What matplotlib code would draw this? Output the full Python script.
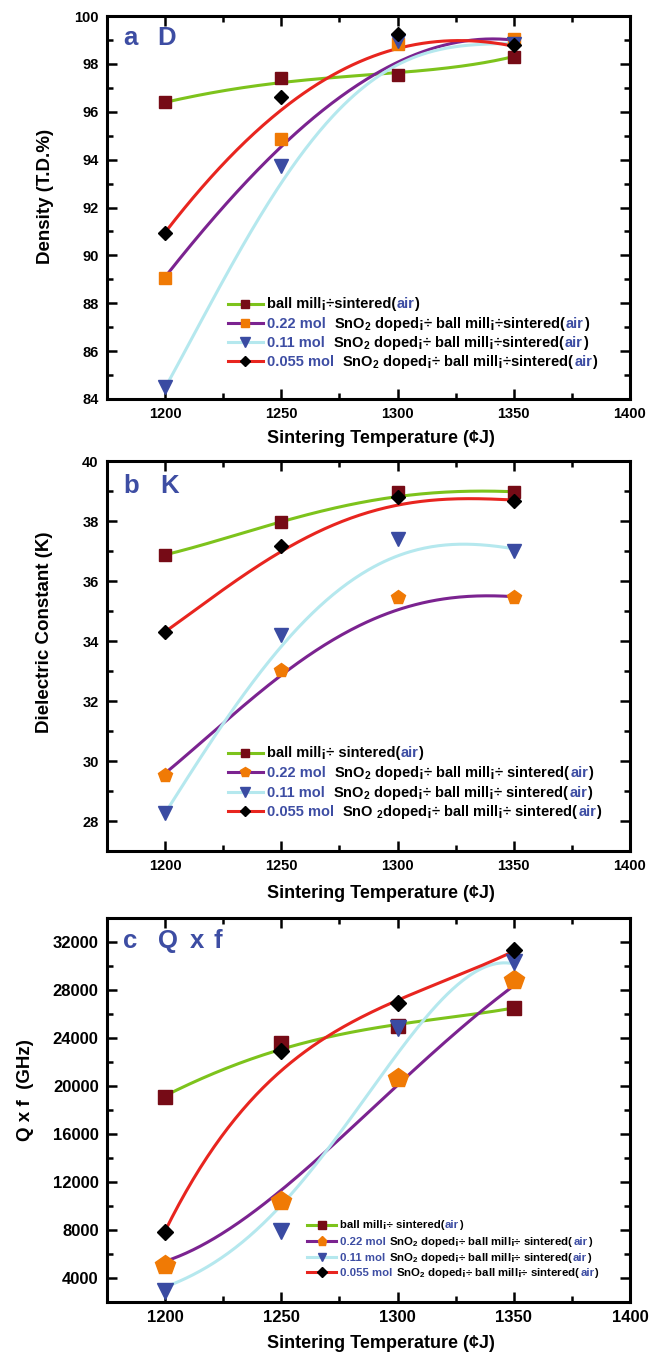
"""Density, dielectric constant and Qxf vs sintering temperature (three stacked panels)."""

import numpy as np
import matplotlib

matplotlib.use("Agg")
import matplotlib.pyplot as plt
from matplotlib.lines import Line2D
from matplotlib.offsetbox import AnchoredOffsetbox, DrawingArea, HPacker, TextArea
from matplotlib.ticker import MultipleLocator

plt.rcParams["font.family"] = ["Liberation Sans", "DejaVu Sans"]
plt.rcParams["font.weight"] = "bold"
plt.rcParams["mathtext.default"] = "regular"

# ---- data ----
temps = [1200, 1250, 1300, 1350]
# the smoothed guide curves were read every 25 degC
curve_temps = [1200, 1225, 1250, 1275, 1300, 1325, 1350]

# (a) density, T.D.%
dens_ball = [96.4, 97.4, 97.55, 98.3]
dens_022 = [89.05, 94.85, 98.85, 99.05]
dens_011 = [84.5, 93.75, 98.95, 98.85]
dens_0055 = [90.95, 96.6, 99.25, 98.8]
dens_ball_curve = [96.4, 96.85, 97.25, 97.45, 97.6, 97.9, 98.3]
dens_022_curve = [89.1, 92.0, 94.6, 96.5, 98.15, 98.85, 99.0]
dens_011_curve = [84.5, 88.8, 93.3, 95.9, 98.0, 98.75, 98.85]
dens_0055_curve = [90.95, 93.85, 96.05, 97.65, 98.72, 98.92, 98.75]

# (b) dielectric constant K
k_ball = [36.87, 37.98, 38.98, 38.98]
k_022 = [29.53, 33.03, 35.48, 35.46]
k_011 = [28.28, 34.2, 37.4, 37.01]
k_0055 = [34.31, 37.18, 38.81, 38.68]
k_ball_curve = [36.87, 37.42, 37.96, 38.46, 38.84, 38.96, 38.98]
k_022_curve = [29.59, 31.26, 32.87, 34.14, 35.06, 35.44, 35.48]
k_011_curve = [28.26, 31.26, 33.81, 35.7, 36.87, 37.2, 37.08]
k_0055_curve = [34.31, 35.7, 37.01, 37.92, 38.55, 38.73, 38.7]

# (c) Q x f, GHz
qf_ball = [19100, 23600, 25000, 26500]
qf_022 = [5100, 10400, 20700, 28800]
qf_011 = [2900, 7900, 24800, 30300]
qf_0055 = [7800, 22900, 26900, 31300]
qf_ball_curve = [19190, 21360, 23080, 24280, 25110, 25800, 26500]
qf_022_curve = [5390, 7750, 11360, 15530, 20110, 24420, 28360]
qf_011_curve = [3170, 6080, 9690, 16080, 23030, 28030, 30250]
qf_0055_curve = [7900, 16080, 21080, 24970, 27000, 29190, 31220]

xlabel = "Sintering Temperature (¢J)"

# legend texts: (piece, is_blue)
legend_a = [
    [("ball mill¡÷sintered(", 0), ("air", 1), (")", 0)],
    [("0.22 mol", 1), ("  SnO$_2$ doped¡÷ ball mill¡÷sintered(", 0), ("air", 1), (")", 0)],
    [("0.11 mol", 1), ("  SnO$_2$ doped¡÷ ball mill¡÷sintered(", 0), ("air", 1), (")", 0)],
    [("0.055 mol", 1), ("  SnO$_2$ doped¡÷ ball mill¡÷sintered(", 0), ("air", 1), (")", 0)],
]
legend_b = [
    [("ball mill¡÷ sintered(", 0), ("air", 1), (")", 0)],
    [("0.22 mol", 1), ("  SnO$_2$ doped¡÷ ball mill¡÷ sintered( ", 0), ("air", 1), (")", 0)],
    [("0.11 mol", 1), ("  SnO$_2$ doped¡÷ ball mill¡÷ sintered( ", 0), ("air", 1), (")", 0)],
    [("0.055 mol", 1), ("  SnO $_2$doped¡÷ ball mill¡÷ sintered( ", 0), ("air", 1), (")", 0)],
]
legend_c = [
    [("ball mill¡÷ sintered(", 0), ("air", 1), (")", 0)],
    [("0.22 mol", 1), (" SnO$_2$ doped¡÷ ball mill¡÷ sintered( ", 0), ("air", 1), (")", 0)],
    [("0.11 mol", 1), (" SnO$_2$ doped¡÷ ball mill¡÷ sintered( ", 0), ("air", 1), (")", 0)],
    [("0.055 mol", 1), (" SnO$_2$ doped¡÷ ball mill¡÷ sintered( ", 0), ("air", 1), (")", 0)],
]

# ---- styling ----
W, H = 660, 1355
BLUE = "#3d4da3"
LINE_COLORS = ["#7dc31c", "#7b2390", "#b5e8ee", "#e8251f"]
MARKER_COLORS = ["#760b16", "#f07a05", "#3a4ba2", "#000000"]


def fx(px):
    return px / W


def fy(px):
    return 1 - px / H


def smooth(ys, n=200):
    # least-squares quartic through the read curve values (irons out reading noise)
    p = np.polynomial.Polynomial.fit(curve_temps, ys, 4)
    xx = np.linspace(curve_temps[0], curve_temps[-1], n)
    return xx, p(xx)


def legend_row(ax, parts, x0, yc, lcolor, marker, mcolor, ms, fs, hlen):
    da = DrawingArea(hlen, fs, 0, fs * 0.3)
    y = fs * 0.33
    da.add_artist(Line2D([0, hlen], [y, y], color=lcolor, lw=2.2))
    da.add_artist(Line2D([hlen / 2], [y], marker=marker, ms=ms, color=mcolor, mec=mcolor, ls="none"))
    texts = [TextArea(t, textprops=dict(color=BLUE if b else "black", fontsize=fs, fontweight="bold"))
             for t, b in parts]
    row = HPacker(children=[da, HPacker(children=texts, align="baseline", pad=0, sep=0)],
                  align="baseline", pad=0, sep=3)
    box = AnchoredOffsetbox(loc="center left", child=row, pad=0, borderpad=0, frameon=False,
                            bbox_to_anchor=(fx(x0), fy(yc)), bbox_transform=ax.figure.transFigure)
    ax.add_artist(box)


def style_axes(ax, ylim, ymajor, yminor, fs):
    ax.set_xlim(1175, 1400)
    ax.set_ylim(*ylim)
    ax.xaxis.set_major_locator(MultipleLocator(50))
    ax.xaxis.set_minor_locator(MultipleLocator(25))
    ax.yaxis.set_major_locator(MultipleLocator(ymajor))
    ax.yaxis.set_minor_locator(MultipleLocator(yminor))
    ax.tick_params(which="both", direction="in", top=True, right=True, width=1.8, labelsize=fs, pad=6)
    ax.tick_params(which="major", length=7)
    ax.tick_params(which="minor", length=4)
    for s in ax.spines.values():
        s.set_linewidth(2.2)


def draw_panel(ax, markers, curves, mk, sizes, legend, leg):
    for i in range(4):
        xx, yy = smooth(curves[i])
        ax.plot(xx, yy, color=LINE_COLORS[i], lw=2.2, zorder=2)
    for i in range(4):
        ax.plot(temps, markers[i], ls="none", marker=mk[i], ms=sizes[i],
                color=MARKER_COLORS[i], mec=MARKER_COLORS[i], zorder=3)
    x0, rows, fs, lsizes, hlen = leg
    for i in range(4):
        legend_row(ax, legend[i], x0, rows[i], LINE_COLORS[i], mk[i], MARKER_COLORS[i],
                   lsizes[i], fs, hlen)


fig = plt.figure(figsize=(W / 100, H / 100), dpi=100)

# (a)
ax1 = fig.add_axes([fx(107), fy(399), fx(630 - 107), (399 - 16) / H])
draw_panel(ax1, [dens_ball, dens_022, dens_011, dens_0055],
           [dens_ball_curve, dens_022_curve, dens_011_curve, dens_0055_curve],
           ["s", "s", "v", "D"], [8.5, 8.5, 9.5, 7],
           legend_a, (228, [305, 324, 343, 362], 10.5, [6, 6, 7, 5], 25))
style_axes(ax1, (84, 100), 2, 1, 10.5)

# (b)
ax2 = fig.add_axes([fx(107), fy(851), fx(630 - 107), (851 - 461) / H])
draw_panel(ax2, [k_ball, k_022, k_011, k_0055],
           [k_ball_curve, k_022_curve, k_011_curve, k_0055_curve],
           ["s", "p", "v", "D"], [8.5, 10, 9.5, 7],
           legend_b, (228, [754, 773, 793, 812], 10.5, [6, 7, 7, 5], 25))
style_axes(ax2, (27, 40), 2, 1, 10.5)

# (c)
ax3 = fig.add_axes([fx(107), fy(1302), fx(630 - 107), (1302 - 918) / H])
draw_panel(ax3, [qf_ball, qf_022, qf_011, qf_0055],
           [qf_ball_curve, qf_022_curve, qf_011_curve, qf_0055_curve],
           ["s", "p", "v", "D"], [10, 15, 11, 8.5],
           legend_c, (307, [1226, 1242, 1258, 1273], 8.2, [5.5, 6.5, 6, 5], 21))
style_axes(ax3, (2000, 34000), 4000, 2000, 12)

# axis labels and panel tags
fig.text(fx(45), fy(196), "Density (T.D.%)", rotation=90, ha="center", va="center", fontsize=13.5)
fig.text(fx(45), fy(632), "Dielectric Constant (K)", rotation=90, ha="center", va="center", fontsize=13.5)
fig.text(fx(26), fy(1090), "Q x f  (GHz)", rotation=90, ha="center", va="center", fontsize=13.5)
for yc in (438, 893, 1344):
    fig.text(fx(381), fy(yc), xlabel, ha="center", va="center", fontsize=13)

tag = dict(color=BLUE, fontsize=18.5, ha="left", va="baseline")
fig.text(fx(123), fy(45), "a", **tag)
fig.text(fx(157), fy(45), "D", **tag)
fig.text(fx(123), fy(493), "b", **tag)
fig.text(fx(160), fy(493), "K", **tag)
fig.text(fx(123), fy(948), "c", **tag)
fig.text(fx(158), fy(948), "Q", **tag)
fig.text(fx(190), fy(948), "x", **tag)
fig.text(fx(213), fy(948), "f", **tag)

fig.savefig("out.png", dpi=100)
plt.close(fig)
